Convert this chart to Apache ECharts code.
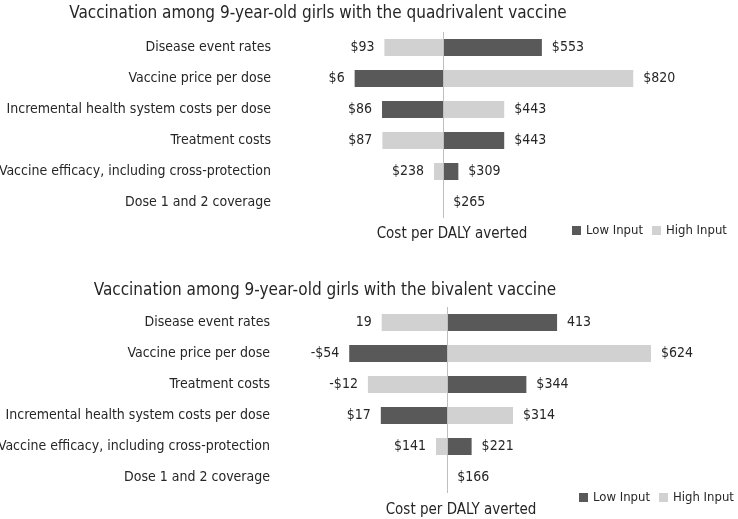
<!DOCTYPE html>
<html>
<head>
<meta charset="utf-8">
<script src="https://cdn.jsdelivr.net/npm/echarts@6/dist/echarts.min.js"></script>
<style>html,body{margin:0;padding:0;background:#fff}#c{width:738px;height:519px}</style>
</head>
<body>
<div id="c"></div>
<script>
// ---- Data ----
var quadTitle = 'Vaccination among 9-year-old girls with the quadrivalent vaccine';
var quadCategories = ['Disease event rates', 'Vaccine price per dose', 'Incremental health system costs per dose', 'Treatment costs', 'Vaccine efficacy, including cross-protection', 'Dose 1 and 2 coverage'];
var quadBase = 265;
var quadLow = [553, 6, 86, 443, 309, 265];
var quadHigh = [93, 820, 443, 87, 238, 265];
var quadDollar = [true, true, true, true, true, true];

var biTitle = 'Vaccination among 9-year-old girls with the bivalent vaccine';
var biCategories = ['Disease event rates', 'Vaccine price per dose', 'Treatment costs', 'Incremental health system costs per dose', 'Vaccine efficacy, including cross-protection', 'Dose 1 and 2 coverage'];
var biBase = 166;
var biLow = [413, -54, 344, 17, 221, 166];
var biHigh = [19, 624, -12, 314, 141, 166];
var biDollar = [false, true, true, true, true, true];

var axisName = 'Cost per DALY averted';
var seriesNames = ['Low Input', 'High Input'];

// ---- Styles ----
var FONT = '"Liberation Sans Narrow", "DejaVu Sans Condensed", "Liberation Sans", sans-serif';
var TXT = '#262626';
var DARK = '#595959';
var LIGHT = '#d1d1d1';

function fmt(v, dollar) {
  if (!dollar) return String(v);
  return (v < 0 ? '-$' : '$') + Math.abs(v);
}

function buildData(vals, base, dollars, showZero) {
  return vals.map(function (v, i) {
    var d = v - base;
    var lbl = {
      show: d !== 0 || showZero,
      position: d < 0 ? 'left' : 'right',
      distance: 10,
      formatter: fmt(v, dollars[i])
    };
    return { value: d, label: lbl };
  });
}

function makeSeries(gi, names, low, high, base, dollars) {
  var common = {
    type: 'bar', xAxisIndex: gi, yAxisIndex: gi, barWidth: 17, barGap: '-100%',
    label: { fontFamily: FONT, fontSize: 14, color: TXT },
    emphasis: { disabled: true }, animation: false
  };
  var s1 = Object.assign({}, common, {
    name: names[0], itemStyle: { color: DARK },
    data: buildData(low, base, dollars, true),
    markLine: {
      silent: true, symbol: 'none', label: { show: false },
      lineStyle: { color: '#bfbfbf', type: 'solid', width: 1 },
      data: [{ xAxis: 0 }]
    }
  });
  var s2 = Object.assign({}, common, {
    name: names[1], itemStyle: { color: LIGHT },
    data: buildData(high, base, dollars, false)
  });
  return [s1, s2];
}

var chart = echarts.init(document.getElementById('c'), null, { renderer: 'canvas' });
var titleStyle = { fontFamily: FONT, fontSize: 17, fontWeight: 'normal', color: TXT };
var nameStyle = { fontFamily: FONT, fontSize: 15, fontWeight: 'normal', color: TXT };
var legendText = { fontFamily: FONT, fontSize: 13, color: TXT };
var option = {
  backgroundColor: '#fff',
  textStyle: { fontFamily: FONT },
  title: [
    { text: quadTitle, left: 313, top: 0, textAlign: 'center', textStyle: titleStyle },
    { text: biTitle, left: 320, top: 277, textAlign: 'center', textStyle: titleStyle },
    { text: axisName, left: 447, top: 222, textAlign: 'center', textStyle: nameStyle },
    { text: axisName, left: 456, top: 498, textAlign: 'center', textStyle: nameStyle }
  ],
  legend: [
    { data: seriesNames, left: 567, top: 219, width: 220, itemWidth: 9, itemHeight: 9, itemGap: 9, icon: 'rect',
      textStyle: legendText },
    { data: seriesNames, left: 574, top: 486, width: 220, itemWidth: 9, itemHeight: 9, itemGap: 9, icon: 'rect',
      textStyle: legendText }
  ],
  grid: [
    { left: 279, width: 421, top: 32, height: 186, outerBoundsMode: 'none', containLabel: false },
    { left: 278, width: 454, top: 307, height: 186, outerBoundsMode: 'none', containLabel: false }
  ],
  xAxis: [
    { gridIndex: 0, type: 'value', min: -480, max: 750, show: false },
    { gridIndex: 1, type: 'value', min: -380, max: 640, show: false }
  ],
  yAxis: [
    { gridIndex: 0, type: 'category', data: quadCategories, inverse: true,
      axisLine: { show: false }, axisTick: { show: false },
      axisLabel: { fontFamily: FONT, fontSize: 14, color: TXT, margin: 8 } },
    { gridIndex: 1, type: 'category', data: biCategories, inverse: true,
      axisLine: { show: false }, axisTick: { show: false },
      axisLabel: { fontFamily: FONT, fontSize: 14, color: TXT, margin: 8 } }
  ],
  series: [].concat(
    makeSeries(0, seriesNames, quadLow, quadHigh, quadBase, quadDollar),
    makeSeries(1, seriesNames, biLow, biHigh, biBase, biDollar)
  )
};
chart.setOption(option);
</script>
</body>
</html>
